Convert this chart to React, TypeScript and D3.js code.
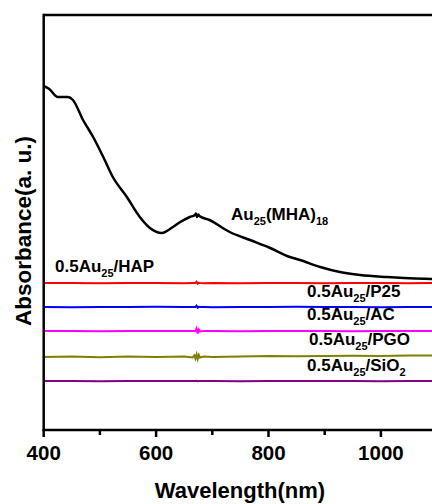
import React from "react";
import * as d3 from "d3";

const W = 432;
const H = 504;

// Au25(MHA)18 spectrum (wavelength nm, absorbance a.u.)
const blackWl = [400, 410, 425, 443, 452, 470, 488, 506, 523, 548, 571, 589, 610, 630, 643, 660, 669, 671, 673, 675, 677, 695, 731, 767, 803, 838, 856, 892, 927, 963, 1011, 1091, 1100];
const blackAbs = [3.44, 3.41, 3.33, 3.33, 3.3, 3.1, 2.93, 2.73, 2.53, 2.33, 2.13, 2.02, 1.97, 2.03, 2.08, 2.13, 2.15, 2.165, 2.13, 2.155, 2.14, 2.1, 1.98, 1.9, 1.82, 1.73, 1.7, 1.63, 1.58, 1.55, 1.53, 1.51, 1.51];

// supported samples share wavelength grid
const flatWl = [400, 450, 500, 550, 600, 650, 665, 668, 670, 672, 674, 676, 678, 685, 700, 750, 800, 850, 900, 950, 1000, 1050, 1100];
const hapAbs = [1.47, 1.47, 1.468, 1.47, 1.47, 1.468, 1.47, 1.47, 1.47, 1.482, 1.462, 1.472, 1.47, 1.468, 1.47, 1.468, 1.47, 1.47, 1.468, 1.47, 1.47, 1.468, 1.47];
const acAbs = [1.23, 1.228, 1.23, 1.23, 1.232, 1.23, 1.23, 1.23, 1.23, 1.242, 1.222, 1.232, 1.23, 1.23, 1.228, 1.23, 1.23, 1.232, 1.23, 1.23, 1.228, 1.23, 1.23];
const pgoAbs = [0.99, 0.99, 0.988, 0.99, 0.99, 0.99, 0.99, 0.99, 0.99, 1.015, 0.965, 1.005, 0.985, 0.99, 0.99, 0.988, 0.99, 0.99, 0.99, 0.988, 0.99, 0.99, 0.99];
const sioAbs = [0.73, 0.735, 0.728, 0.735, 0.73, 0.735, 0.725, 0.745, 0.715, 0.755, 0.71, 0.75, 0.725, 0.735, 0.73, 0.735, 0.74, 0.738, 0.74, 0.742, 0.74, 0.745, 0.745];
const p25Abs = [0.49, 0.49, 0.488, 0.49, 0.49, 0.49, 0.49, 0.49, 0.49, 0.492, 0.488, 0.49, 0.49, 0.49, 0.49, 0.488, 0.49, 0.49, 0.49, 0.49, 0.488, 0.49, 0.49];

const flatSeries = [
  { name: "HAP", values: hapAbs, color: "#ff0000" },
  { name: "AC", values: acAbs, color: "#0000ff" },
  { name: "PGO", values: pgoAbs, color: "#ff00ff" },
  { name: "SiO2", values: sioAbs, color: "#808000" },
  { name: "P25", values: p25Abs, color: "#800080" },
];

const majorTicks = [400, 600, 800, 1000];
const minorTicks = [500, 700, 900];

const FONT = "'Liberation Sans', Arial, sans-serif";

export default function App() {
  const left = 43.7;
  const right = left + 7 * 56.2;
  const top = 15;
  const bottom = 430;
  const x = d3.scaleLinear().domain([400, 1100]).range([left, right]);
  const y = d3.scaleLinear().domain([0, 4.15]).range([bottom, top]);

  const line = d3
    .line<[number, number]>()
    .x((d) => x(d[0]))
    .y((d) => y(d[1]));

  const blackPath = d3
    .line<[number, number]>()
    .x((d) => x(d[0]))
    .y((d) => y(d[1]))
    .curve(d3.curveMonotoneX)(blackWl.map((w, i) => [w, blackAbs[i]] as [number, number]));

  const label = (main: string, tail: React.ReactNode, lx: number, ly: number, key?: string) => (
    <text key={key} x={lx} y={ly} fontFamily={FONT} fontWeight="bold" fontSize={17} fill="#000">
      {main}
      <tspan fontSize={11} dy={5}>25</tspan>
      <tspan dy={-5}>{tail}</tspan>
    </text>
  );

  return (
    <svg width={W} height={H} style={{ position: "absolute", left: 0, top: 0, background: "#fff" }}>
      <defs>
        <clipPath id="plot">
          <rect x={left} y={top} width={right - left} height={bottom - top} />
        </clipPath>
      </defs>
      <g clipPath="url(#plot)">
        {flatSeries.map((s) => (
          <path
            key={s.name}
            d={line(flatWl.map((w, i) => [w, s.values[i]] as [number, number])) || ""}
            fill="none"
            stroke={s.color}
            strokeWidth={2}
          />
        ))}
        <path d={blackPath || ""} fill="none" stroke="#000" strokeWidth={2.5} strokeLinejoin="round" />
      </g>
      {/* axes */}
      <line x1={left} x2={W} y1={top} y2={top} stroke="#000" strokeWidth={2.5} />
      <line x1={left} x2={left} y1={top - 1.25} y2={bottom + 1.25} stroke="#000" strokeWidth={2.5} />
      <line x1={left - 1.25} x2={W} y1={bottom} y2={bottom} stroke="#000" strokeWidth={2.5} />
      {majorTicks.map((t) => (
        <g key={t}>
          <line x1={x(t)} x2={x(t)} y1={bottom} y2={bottom + 7} stroke="#000" strokeWidth={2.5} />
          <text x={x(t)} y={460} textAnchor="middle" fontFamily={FONT} fontWeight="bold" fontSize={20.5}>
            {t}
          </text>
        </g>
      ))}
      {minorTicks.map((t) => (
        <line key={t} x1={x(t)} x2={x(t)} y1={bottom} y2={bottom + 5} stroke="#000" strokeWidth={2.5} />
      ))}
      <text x={240} y={498} textAnchor="middle" fontFamily={FONT} fontWeight="bold" fontSize={22}>
        Wavelength(nm)
      </text>
      <text
        transform={`translate(31, 231) rotate(-90)`}
        textAnchor="middle"
        fontFamily={FONT}
        fontWeight="bold"
        fontSize={22.5}
      >
        Absorbance(a. u.)
      </text>
      {/* labels */}
      <text x={231} y={220} fontFamily={FONT} fontWeight="bold" fontSize={17}>
        Au<tspan fontSize={11} dy={5}>25</tspan>
        <tspan dy={-5}>(MHA)</tspan>
        <tspan fontSize={11} dy={5}>18</tspan>
      </text>
      {label("0.5Au", "/HAP", 55, 272, "hap")}
      {label("0.5Au", "/P25", 307, 297, "p25")}
      {label("0.5Au", "/AC", 307, 320, "ac")}
      {label("0.5Au", "/PGO", 309, 345, "pgo")}
      <text x={307} y={371} fontFamily={FONT} fontWeight="bold" fontSize={17}>
        0.5Au<tspan fontSize={11} dy={5}>25</tspan>
        <tspan dy={-5}>/SiO</tspan>
        <tspan fontSize={11} dy={5}>2</tspan>
      </text>
    </svg>
  );
}
